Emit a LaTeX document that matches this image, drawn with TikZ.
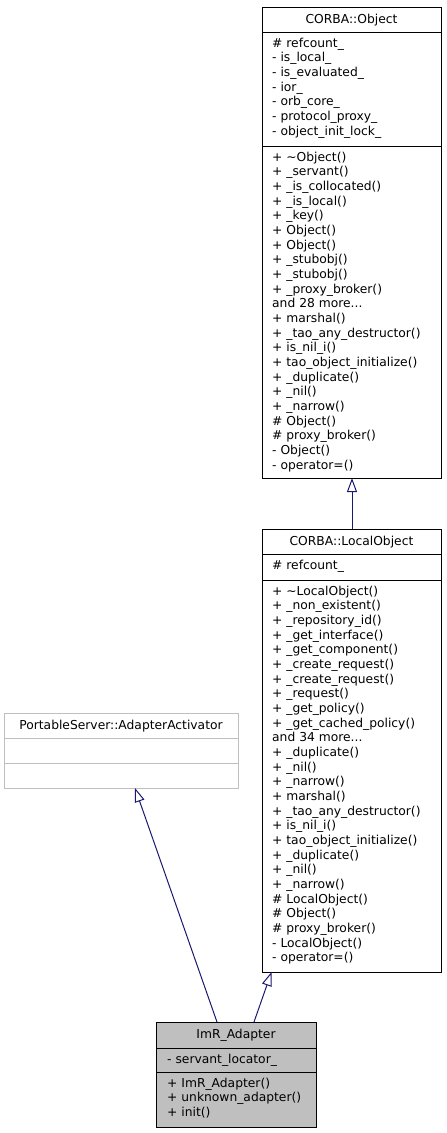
\documentclass[tikz,border=0pt]{standalone}
\usepackage{fontspec}
\setmainfont{DejaVu Sans}
\usetikzlibrary{arrows.meta}
\definecolor{edgeblue}{HTML}{191970}
\definecolor{boxgray}{HTML}{BFBFBF}
\tikzset{
  classbox/.style={draw=black, line width=1pt, fill=white, anchor=north west, inner sep=0pt, outer sep=0pt},
  grayborder/.style={classbox, draw=boxgray},
  grayfilled/.style={classbox, fill=boxgray},
  sepline/.style={line width=1pt, draw=black},
  txt/.style={anchor=base west, inner sep=0pt, font=\fontsize{12.3}{14.67}\selectfont},
  ttl/.style={anchor=base, inner sep=0pt, font=\fontsize{12.3}{14.67}\selectfont},
  inherit/.style={draw=edgeblue, line width=1pt, -{Triangle[open, length=14pt, width=10pt]}},
}
\newcommand\mydots{...}
\newcommand\umlLines[4]{%
  \foreach \t [count=\i from 0] in {#4} {\node[txt] (#1\i) at (#2,{#3+14.67*\i}) {\t};}%
}
\begin{document}
\begin{tikzpicture}[x=1pt,y=-1pt]
\useasboundingbox (0,0) rectangle (447,1133);

% CORBA::Object
\node[classbox, minimum width=179pt, minimum height=471pt] (obj) at (262,7) {};
\draw[sepline] (262,32) -- (441,32);
\draw[sepline] (262,146) -- (441,146);
\node[ttl] (objT) at (351.5,23) {CORBA::Object};
\umlLines{objA}{272}{47}{\# refcount\_, - is\_local\_, - is\_evaluated\_, - ior\_, - orb\_core\_, - protocol\_proxy\_, - object\_init\_lock\_}
\umlLines{objO}{272}{161}{+ \textasciitilde Object(), + \_servant(), + \_is\_collocated(), + \_is\_local(), + \_key(), + Object(), + Object(), + \_stubobj(), + \_stubobj(), + \_proxy\_broker(), and 28 more\mydots, + marshal(), + \_tao\_any\_destructor(), + is\_nil\_i(), + tao\_object\_initialize(), + \_duplicate(), + \_nil(), + \_narrow(), \# Object(), \# proxy\_broker(), - Object(), - operator=()}

% CORBA::LocalObject
\node[classbox, minimum width=179pt, minimum height=443pt] (lo) at (262,529) {};
\draw[sepline] (262,554) -- (441,554);
\draw[sepline] (262,580) -- (441,580);
\node[ttl] (loT) at (351.5,545) {CORBA::LocalObject};
\umlLines{loA}{272}{569}{\# refcount\_}
\umlLines{loO}{272}{595}{+ \textasciitilde LocalObject(), + \_non\_existent(), + \_repository\_id(), + \_get\_interface(), + \_get\_component(), + \_create\_request(), + \_create\_request(), + \_request(), + \_get\_policy(), + \_get\_cached\_policy(), and 34 more\mydots, + \_duplicate(), + \_nil(), + \_narrow(), + marshal(), + \_tao\_any\_destructor(), + is\_nil\_i(), + tao\_object\_initialize(), + \_duplicate(), + \_nil(), + \_narrow(), \# LocalObject(), \# Object(), \# proxy\_broker(), - LocalObject(), - operator=()}

% PortableServer::AdapterActivator
\node[grayborder, minimum width=234pt, minimum height=75pt] (aa) at (4,713) {};
\draw[sepline, draw=boxgray] (4,738) -- (238,738);
\draw[sepline, draw=boxgray] (4,763) -- (238,763);
\node[ttl] (aaT) at (121,729) {PortableServer::AdapterActivator};

% ImR_Adapter
\node[grayfilled, minimum width=160pt, minimum height=105pt] (imr) at (156,1022) {};
\draw[sepline] (156,1048) -- (316,1048);
\draw[sepline] (156,1072) -- (316,1072);
\node[ttl] (imrT) at (236,1038) {ImR\_Adapter};
\umlLines{imrA}{167}{1063}{- servant\_locator\_}
\umlLines{imrO}{167}{1087}{+ ImR\_Adapter(), + unknown\_adapter(), + init()}

% connector end points
\coordinate (loTop) at (352,529);
\coordinate (objBot) at (352,478);
\coordinate (imrL) at (217,1022);
\coordinate (aaBot) at (135,788);
\coordinate (imrR) at (254,1022);
\coordinate (loBot) at (271.5,972);

\draw[inherit] (loTop) -- (objBot);
\draw[inherit] (imrL) -- (aaBot);
\draw[inherit] (imrR) -- (loBot);
\end{tikzpicture}
\end{document}
